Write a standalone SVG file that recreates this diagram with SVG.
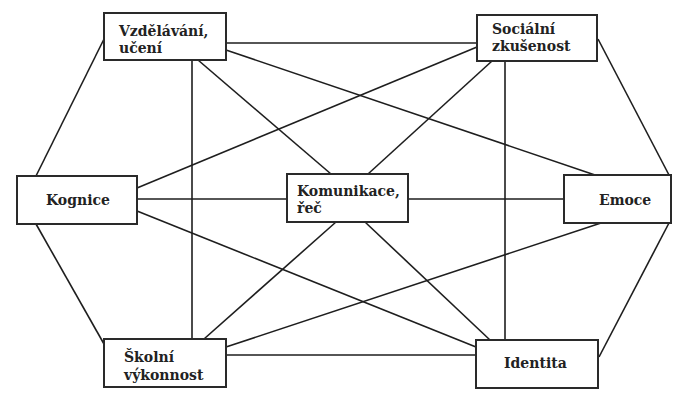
<svg xmlns="http://www.w3.org/2000/svg" width="674" height="394" viewBox="0 0 674 394">
<style>
.bg{fill:#ffffff}
.box{fill:#ffffff;stroke:#2a2a2a;stroke-width:2}
.ln{stroke:#1e1e1e;stroke-width:1.6;fill:none}
.t{font-family:"DejaVu Serif","Liberation Serif",serif;font-weight:bold;font-size:14px;fill:#222}
</style>
<rect class="bg" x="0" y="0" width="674" height="394"/>
<g id="connectors">
<line class="ln" x1="226" y1="43" x2="477" y2="43"/>
<line class="ln" x1="104" y1="39" x2="36" y2="176"/>
<line class="ln" x1="192" y1="60" x2="192" y2="339"/>
<line class="ln" x1="198" y1="60" x2="331" y2="174"/>
<line class="ln" x1="226" y1="50" x2="595" y2="175"/>
<line class="ln" x1="477" y1="47" x2="137" y2="188"/>
<line class="ln" x1="492" y1="61" x2="368" y2="174"/>
<line class="ln" x1="505" y1="61" x2="505" y2="340"/>
<line class="ln" x1="598" y1="39" x2="669" y2="175"/>
<line class="ln" x1="137" y1="199" x2="287" y2="199"/>
<line class="ln" x1="408" y1="199" x2="564" y2="199"/>
<line class="ln" x1="36" y1="224" x2="104" y2="344"/>
<line class="ln" x1="137" y1="211" x2="476" y2="347"/>
<line class="ln" x1="336" y1="222" x2="204" y2="339"/>
<line class="ln" x1="365" y1="222" x2="490" y2="340"/>
<line class="ln" x1="226" y1="347" x2="601" y2="223"/>
<line class="ln" x1="226" y1="355" x2="476" y2="355"/>
<line class="ln" x1="669" y1="223" x2="599" y2="357"/>
</g>
<g id="vzdelavani">
<rect class="box" x="104" y="13" width="122" height="47"/>
<text class="t" x="119" y="36">Vzdělávání,</text>
<text class="t" x="119" y="53">učení</text>
</g>
<g id="socialni">
<rect class="box" x="477" y="15" width="120" height="46"/>
<text class="t" x="492" y="34">Sociální</text>
<text class="t" x="492" y="51">zkušenost</text>
</g>
<g id="kognice">
<rect class="box" x="17" y="176" width="120" height="48"/>
<text class="t" x="46" y="205">Kognice</text>
</g>
<g id="komunikace">
<rect class="box" x="287" y="174" width="121" height="48"/>
<text class="t" x="297" y="196">Komunikace,</text>
<text class="t" x="297" y="213">řeč</text>
</g>
<g id="emoce">
<rect class="box" x="564" y="175" width="107" height="48"/>
<text class="t" x="599" y="205">Emoce</text>
</g>
<g id="skolni">
<rect class="box" x="104" y="339" width="122" height="48"/>
<text class="t" x="124" y="362">Školní</text>
<text class="t" x="124" y="380">výkonnost</text>
</g>
<g id="identita">
<rect class="box" x="476" y="340" width="122" height="48"/>
<text class="t" x="504" y="368">Identita</text>
</g>
</svg>
